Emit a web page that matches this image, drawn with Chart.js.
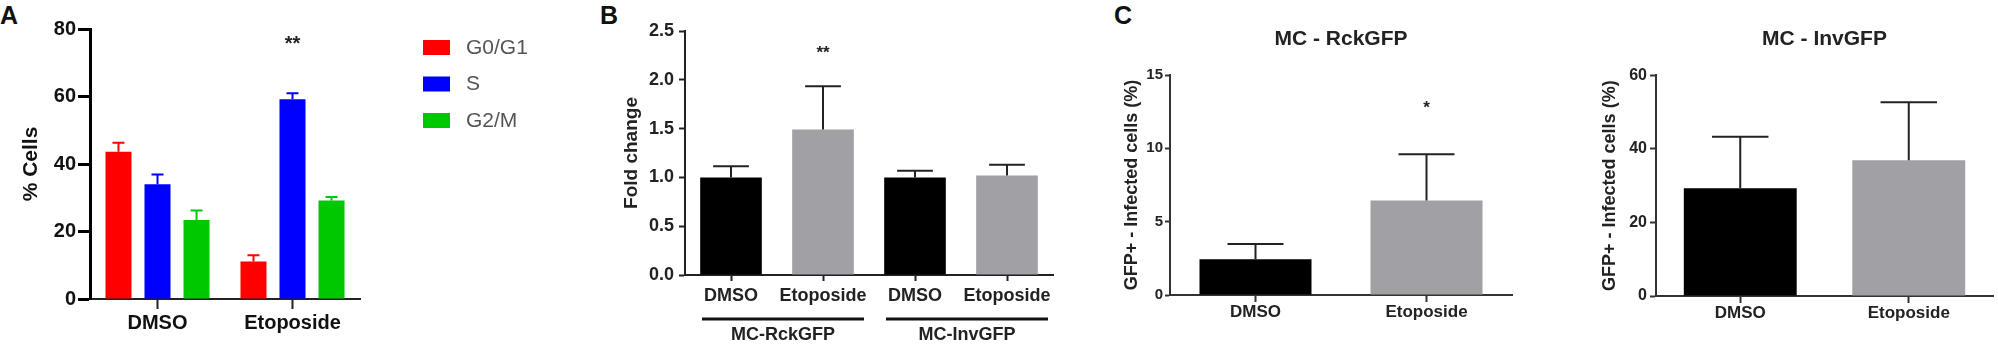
<!DOCTYPE html>
<html>
<head>
<meta charset="utf-8">
<script src="https://cdn.jsdelivr.net/npm/chart.js@4"></script>
<style>
  body { margin: 0; background: #fff; width: 1998px; height: 349px; overflow: hidden; position: relative; }
  canvas { position: absolute; top: 0; }
  .tag { position: absolute; top: 3px; font: bold 25px "Liberation Sans", Arial, sans-serif; line-height: 1; color: #111; }
</style>
</head>
<body>
<div class="tag" style="left:0">A</div>
<div class="tag" style="left:600px">B</div>
<div class="tag" style="left:1114px">C</div>
<canvas id="chartA" width="570" height="349" style="left:0"></canvas>
<canvas id="chartB" width="460" height="349" style="left:600px"></canvas>
<canvas id="chartC1" width="420" height="349" style="left:1100px"></canvas>
<canvas id="chartC2" width="428" height="349" style="left:1570px"></canvas>
<script>
// Panel A: cell cycle distribution (% cells)
const aCategories = ['DMSO', 'Etoposide'];
const aPhases = ['G0/G1', 'S', 'G2/M'];
const aG0G1 = [43.6, 11.1];
const aG0G1Err = [2.7, 1.9];
const aS = [34.0, 59.2];
const aSErr = [2.9, 1.8];
const aG2M = [23.4, 29.2];
const aG2MErr = [2.8, 1.0];
const aTicks = [0, 20, 40, 60, 80];
const aStars = ['', '**'];
const aStarsAt = [null, 75.5];

// Panel B: fold change
const bCategories = ['DMSO', 'Etoposide', 'DMSO', 'Etoposide'];
const bGroups = ['MC-RckGFP', 'MC-InvGFP'];
const bFold = [1.0, 1.49, 1.0, 1.02];
const bFoldErr = [0.115, 0.445, 0.067, 0.11];
const bTicks = [0, 0.5, 1.0, 1.5, 2.0, 2.5];
const bStars = ['', '**', '', ''];
const bStarsAt = [null, 2.27, null, null];

// Panel C: GFP+ infected cells (%)
const cCategories = ['DMSO', 'Etoposide'];
const cRckInfected = [2.43, 6.45];
const cRckErr = [1.05, 3.15];
const cRckTicks = [0, 5, 10, 15];
const cRckStars = ['', '*'];
const cRckStarsAt = [null, 12.7];
const cInvInfected = [29.3, 36.9];
const cInvErr = [14.0, 15.8];
const cInvTicks = [0, 20, 40, 60];

Chart.defaults.font.family = '"Liberation Sans", Arial, sans-serif';
Chart.defaults.color = '#222';

const BLACK = '#000000';
const GRAY = '#a0a0a5';

// upper whisker only, like the original figure
const errorBars = {
  id: 'errorBars',
  afterDatasetsDraw(chart, args, opts) {
    const { ctx } = chart;
    const y = chart.scales.y;
    chart.data.datasets.forEach((ds, di) => {
      if (!ds.errors) return;
      chart.getDatasetMeta(di).data.forEach((bar, i) => {
        const top = y.getPixelForValue(ds.data[i] + ds.errors[i]);
        const half = bar.width * opts.cap / 2;
        ctx.save();
        ctx.strokeStyle = opts.color || ds.backgroundColor;
        ctx.lineWidth = opts.width;
        ctx.beginPath();
        ctx.moveTo(bar.x, bar.y);
        ctx.lineTo(bar.x, top);
        ctx.moveTo(bar.x - half, top);
        ctx.lineTo(bar.x + half, top);
        ctx.stroke();
        ctx.restore();
      });
    });
  }
};

const stars = {
  id: 'stars',
  afterDatasetsDraw(chart, args, opts) {
    if (!opts.labels) return;
    const { ctx, scales: { x, y } } = chart;
    ctx.save();
    ctx.font = opts.font;
    ctx.fillStyle = '#222';
    ctx.textAlign = 'center';
    ctx.textBaseline = 'middle';
    opts.labels.forEach((t, i) => {
      if (t) ctx.fillText(t, x.getPixelForValue(i), y.getPixelForValue(opts.values[i]));
    });
    ctx.restore();
  }
};

const sideLegend = {
  id: 'sideLegend',
  afterDraw(chart, args, opts) {
    const { ctx } = chart;
    ctx.save();
    ctx.font = '21px "Liberation Sans", Arial, sans-serif';
    ctx.textBaseline = 'middle';
    chart.data.datasets.forEach((ds, i) => {
      const top = opts.top + i * opts.step;
      ctx.fillStyle = ds.backgroundColor;
      ctx.fillRect(opts.left, top, 27, 15);
      ctx.fillStyle = '#555';
      ctx.fillText(ds.label, opts.left + 43, top + 8);
    });
    ctx.restore();
  }
};

// underline + name for each pair of bars in panel B
const groupLabels = {
  id: 'groupLabels',
  afterDraw(chart, args, opts) {
    const { ctx, scales: { x }, chartArea } = chart;
    ctx.save();
    ctx.strokeStyle = '#111';
    ctx.lineWidth = 3;
    ctx.fillStyle = '#222';
    ctx.font = 'bold 18px "Liberation Sans", Arial, sans-serif';
    ctx.textAlign = 'center';
    ctx.textBaseline = 'middle';
    opts.labels.forEach((name, g) => {
      const left = x.getPixelForValue(g * 2) - 29;
      const right = x.getPixelForValue(g * 2 + 1) + 41;
      const ly = chartArea.bottom + 44;
      ctx.beginPath();
      ctx.moveTo(left, ly);
      ctx.lineTo(right, ly);
      ctx.stroke();
      ctx.fillText(name, (left + right) / 2, chartArea.bottom + 60);
    });
    ctx.restore();
  }
};

function yAxis(o) {
  return {
    min: 0,
    max: o.ticks[o.ticks.length - 1],
    afterFit: (s) => { s.width = o.width; },
    afterBuildTicks: (s) => { s.ticks = o.ticks.map((v) => ({ value: v })); },
    border: { color: o.color, width: o.border },
    grid: { drawOnChartArea: false, tickLength: o.tick, tickWidth: o.tickWidth, tickColor: o.color },
    ticks: { padding: o.pad, color: o.text, font: { size: o.size, weight: 'bold' }, callback: o.fmt || ((v) => v) },
    title: {
      display: true, text: o.title, color: o.text,
      font: { size: o.titleSize, weight: 'bold' },
      padding: { top: o.titlePad, bottom: 0 }
    }
  };
}

function xAxis(o) {
  return {
    afterFit: (s) => { s.height = o.height; },
    border: { color: o.color, width: o.border },
    grid: { offset: false, drawOnChartArea: false, tickLength: o.tick, tickWidth: o.tickWidth, tickColor: o.color },
    ticks: { padding: o.pad, color: o.text, maxRotation: 0, autoSkip: false, font: { size: o.size, weight: 'bold' } }
  };
}

function baseOptions(extra) {
  return Object.assign({
    responsive: false,
    animation: false,
    events: []
  }, extra);
}

// ---- Panel A ----
new Chart(document.getElementById('chartA'), {
  type: 'bar',
  data: {
    labels: aCategories,
    datasets: [
      { label: aPhases[0], data: aG0G1, errors: aG0G1Err, backgroundColor: '#ff0000' },
      { label: aPhases[1], data: aS, errors: aSErr, backgroundColor: '#0000ff' },
      { label: aPhases[2], data: aG2M, errors: aG2MErr, backgroundColor: '#00c800' }
    ]
  },
  options: baseOptions({
    categoryPercentage: 0.867,
    barPercentage: 0.667,
    layout: { padding: { top: 29, right: 210, left: 0, bottom: 0 } },
    plugins: {
      legend: { display: false },
      tooltip: { enabled: false },
      errorBars: { cap: 0.46, width: 2 },
      stars: { labels: aStars, values: aStarsAt, font: 'bold 20px "Liberation Sans", Arial, sans-serif' },
      sideLegend: { left: 423, top: 40, step: 36.5 }
    },
    scales: {
      x: xAxis({ height: 50, color: '#222', border: 2, tick: 10, tickWidth: 2, pad: 2, size: 20, text: '#111' }),
      y: yAxis({ ticks: aTicks, width: 90, color: '#000', border: 3, tick: 12, tickWidth: 3, pad: 2, size: 20,
                 text: '#111', title: '% Cells', titleSize: 21, titlePad: 19 })
    }
  }),
  plugins: [errorBars, stars, sideLegend]
});

// ---- Panel B ----
new Chart(document.getElementById('chartB'), {
  type: 'bar',
  data: {
    labels: bCategories,
    datasets: [{
      label: 'Fold change',
      data: bFold,
      errors: bFoldErr,
      backgroundColor: bCategories.map((c) => (c === 'DMSO' ? BLACK : GRAY))
    }]
  },
  options: baseOptions({
    categoryPercentage: 1,
    barPercentage: 0.67,
    layout: { padding: { top: 31, right: 7, left: 0, bottom: 0 } },
    plugins: {
      legend: { display: false },
      tooltip: { enabled: false },
      errorBars: { cap: 0.58, width: 2, color: '#222' },
      stars: { labels: bStars, values: bStarsAt, font: 'bold 17px "Liberation Sans", Arial, sans-serif' },
      groupLabels: { labels: bGroups }
    },
    scales: {
      x: xAxis({ height: 74, color: '#222', border: 2, tick: 6, tickWidth: 2, pad: 4, size: 18, text: '#222' }),
      y: yAxis({ ticks: bTicks, width: 85, color: '#222', border: 2, tick: 6, tickWidth: 2, pad: 5, size: 18,
                 text: '#222', fmt: (v) => v.toFixed(1), title: 'Fold change', titleSize: 19, titlePad: 20.6 })
    }
  }),
  plugins: [errorBars, stars, groupLabels]
});

// ---- Panel C, left: MC - RckGFP ----
new Chart(document.getElementById('chartC1'), {
  type: 'bar',
  data: {
    labels: cCategories,
    datasets: [{
      label: 'MC - RckGFP',
      data: cRckInfected,
      errors: cRckErr,
      backgroundColor: cCategories.map((c) => (c === 'DMSO' ? BLACK : GRAY))
    }]
  },
  options: baseOptions({
    categoryPercentage: 1,
    barPercentage: 0.655,
    layout: { padding: { top: 0, right: 8, left: 0, bottom: 0 } },
    plugins: {
      legend: { display: false },
      tooltip: { enabled: false },
      title: {
        display: true, text: 'MC - RckGFP', fullSize: false, color: '#222',
        font: { size: 21, weight: 'bold' }, padding: { top: 27, bottom: 22.8 }
      },
      errorBars: { cap: 0.5, width: 2, color: '#222' },
      stars: { labels: cRckStars, values: cRckStarsAt, font: 'bold 17px "Liberation Sans", Arial, sans-serif' }
    },
    scales: {
      x: xAxis({ height: 54, color: '#333', border: 2, tick: 7, tickWidth: 2, pad: 0, size: 17, text: '#222' }),
      y: yAxis({ ticks: cRckTicks, width: 70, color: '#333', border: 2, tick: 5, tickWidth: 2, pad: 2, size: 15,
                 text: '#222', title: 'GFP+ - Infected cells (%)', titleSize: 18, titlePad: 20.9 })
    }
  }),
  plugins: [errorBars, stars]
});

// ---- Panel C, right: MC - InvGFP ----
new Chart(document.getElementById('chartC2'), {
  type: 'bar',
  data: {
    labels: cCategories,
    datasets: [{
      label: 'MC - InvGFP',
      data: cInvInfected,
      errors: cInvErr,
      backgroundColor: cCategories.map((c) => (c === 'DMSO' ? BLACK : GRAY))
    }]
  },
  options: baseOptions({
    categoryPercentage: 1,
    barPercentage: 0.67,
    layout: { padding: { top: 0, right: 5, left: 0, bottom: 0 } },
    plugins: {
      legend: { display: false },
      tooltip: { enabled: false },
      title: {
        display: true, text: 'MC - InvGFP', fullSize: false, color: '#222',
        font: { size: 21, weight: 'bold' }, padding: { top: 27, bottom: 23.1 }
      },
      errorBars: { cap: 0.5, width: 2, color: '#222' }
    },
    scales: {
      x: xAxis({ height: 53, color: '#333', border: 2, tick: 7, tickWidth: 2, pad: 0, size: 17, text: '#222' }),
      y: yAxis({ ticks: cInvTicks, width: 86, color: '#333', border: 2, tick: 6, tickWidth: 2, pad: 3, size: 16,
                 text: '#222', title: 'GFP+ - Infected cells (%)', titleSize: 18, titlePad: 29.7 })
    }
  }),
  plugins: [errorBars]
});
</script>
</body>
</html>
